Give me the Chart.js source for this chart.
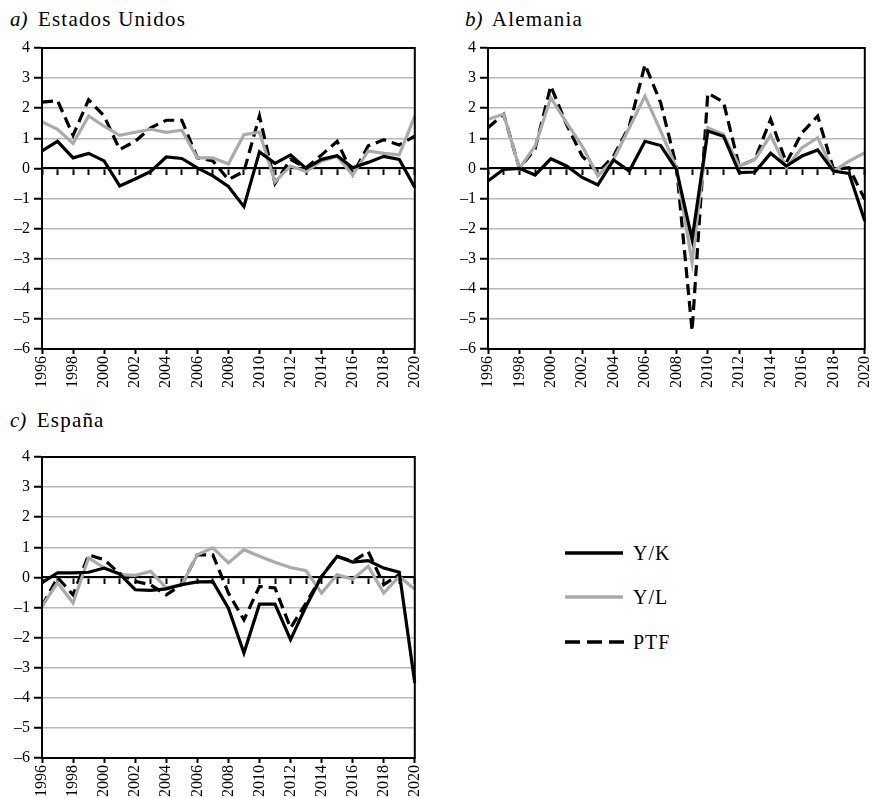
<!DOCTYPE html>
<html>
<head>
<meta charset="utf-8">
<script src="https://cdn.jsdelivr.net/npm/chart.js@4.4.1/dist/chart.umd.min.js"></script>
<style>
body { margin: 0; width: 873px; height: 798px; overflow: hidden; background: #fff; position: relative; font-family: "Liberation Serif", "DejaVu Serif", serif; color: #000; }
canvas { position: absolute; }
.title { position: absolute; font-size: 21px; line-height: 21px; letter-spacing: 1.2px; white-space: nowrap; }
.title i { margin-right: 4px; letter-spacing: 0; }
.key { position: absolute; left: 565px; width: 62px; height: 10px; }
.keytext { position: absolute; left: 633px; font-size: 20px; line-height: 20px; letter-spacing: 1px; }
</style>
</head>
<body>
<div class="title" style="left:10px; top:9px;"><i>a)</i> Estados Unidos</div>
<div class="title" style="left:465px; top:9px;"><i>b)</i> Alemania</div>
<div class="title" style="left:10px; top:410px;"><i>c)</i> España</div>

<canvas id="chartUS" width="436" height="390" style="left:0; top:0;"></canvas>
<canvas id="chartDE" width="440" height="390" style="left:446px; top:0;"></canvas>
<canvas id="chartES" width="436" height="388" style="left:0; top:410px;"></canvas>

<svg class="key" style="top:548px;"><line x1="0" y1="5" x2="58" y2="5" stroke="#000" stroke-width="3.5"/></svg>
<div class="keytext" style="top:543px;">Y/K</div>
<svg class="key" style="top:592px;"><line x1="0" y1="5" x2="58" y2="5" stroke="#aaaaaa" stroke-width="3.5"/></svg>
<div class="keytext" style="top:587px;">Y/L</div>
<svg class="key" style="top:637px;"><line x1="0" y1="5" x2="60" y2="5" stroke="#000" stroke-width="3.5" stroke-dasharray="15 7"/></svg>
<div class="keytext" style="top:632px;">PTF</div>

<script>
const years = ['1996', '1997', '1998', '1999', '2000', '2001', '2002', '2003', '2004', '2005', '2006', '2007', '2008',
    '2009', '2010', '2011', '2012', '2013', '2014', '2015', '2016', '2017', '2018', '2019', '2020'];

// a) Estados Unidos
const usYK = [0.58, 0.9, 0.35, 0.5, 0.25, -0.58, -0.35, -0.1, 0.38, 0.33, 0.02, -0.25, -0.6, -1.27, 0.55, 0.17, 0.45, 0.0, 0.3, 0.42, 0.02, 0.2, 0.4, 0.3, -0.63];
const usYL = [1.55, 1.3, 0.83, 1.74, 1.4, 1.1, 1.2, 1.3, 1.2, 1.27, 0.35, 0.35, 0.15, 1.12, 1.2, -0.45, 0.08, -0.1, 0.25, 0.4, -0.22, 0.58, 0.5, 0.45, 1.74];
const usPTF = [2.2, 2.25, 1.1, 2.28, 1.74, 0.63, 0.9, 1.35, 1.6, 1.6, 0.35, 0.25, -0.37, -0.1, 1.74, -0.5, 0.3, 0.02, 0.45, 0.9, -0.2, 0.75, 0.95, 0.78, 1.07];

// b) Alemania
const deYK = [-0.42, -0.03, 0, -0.22, 0.32, 0.08, -0.3, -0.55, 0.28, -0.09, 0.9, 0.76, -0.03, -2.36, 1.24, 1.07, -0.14, -0.12, 0.5, 0.08, 0.41, 0.61, -0.09, -0.17, -1.75];
const deYL = [1.63, 1.8, 0, 0.74, 2.35, 1.52, 0.74, -0.25, 0.3, 1.35, 2.4, 1.24, 0.02, -3.13, 1.35, 1.13, 0.08, 0.3, 1.1, 0.02, 0.69, 1.02, -0.09, 0.24, 0.52];
const dePTF = [1.35, 1.8, 0, 0.65, 2.74, 1.46, 0.41, -0.14, 0.41, 1.4, 3.45, 2.18, 0.08, -5.4, 2.5, 2.2, 0.08, 0.3, 1.63, 0.19, 1.18, 1.74, -0.03, 0.02, -1.03];

// c) España
const esYK = [-0.17, 0.15, 0.15, 0.17, 0.31, 0.12, -0.41, -0.43, -0.38, -0.24, -0.15, -0.14, -1.02, -2.51, -0.89, -0.89, -2.07, -0.96, 0.03, 0.7, 0.51, 0.56, 0.31, 0.17, -3.51];
const esYL = [-0.96, -0.18, -0.85, 0.65, 0.32, 0.09, 0.07, 0.2, -0.35, -0.24, 0.75, 0.98, 0.48, 0.92, 0.7, 0.5, 0.33, 0.22, -0.52, 0.09, -0.06, 0.37, -0.52, 0.03, -0.39];
const esPTF = [-0.96, 0.0, -0.58, 0.75, 0.59, 0.13, -0.13, -0.25, -0.58, -0.24, 0.75, 0.75, -0.52, -1.41, -0.3, -0.35, -1.68, -0.85, 0.03, 0.7, 0.53, 0.86, -0.24, 0.1, null];

const GRID_GRAY = '#b8b8b8';
const LINE_GRAY = '#aaaaaa';

Chart.defaults.font.family = '"Liberation Serif", "DejaVu Serif", serif';
Chart.defaults.font.size = 16;
Chart.defaults.color = '#000';

const framePlugin = {
    id: 'frame',
    afterDatasetsDraw(chart) {
        const { ctx, chartArea: a } = chart;
        ctx.save();
        ctx.strokeStyle = '#000';
        ctx.lineWidth = 2;
        ctx.strokeRect(a.left, a.top, a.right - a.left, a.bottom - a.top);
        ctx.restore();
    }
};

function makeChart(id, yk, yl, ptf, pad, xHeight) {
    return new Chart(document.getElementById(id), {
        type: 'line',
        data: {
            labels: years,
            datasets: [
                { label: 'Y/K', data: yk, borderColor: '#000', borderWidth: 3.2 },
                { label: 'Y/L', data: yl, borderColor: LINE_GRAY, borderWidth: 3.2 },
                { label: 'PTF', data: ptf, borderColor: '#000', borderWidth: 3.2, borderDash: [11, 6] },
            ]
        },
        options: {
            responsive: false,
            animation: false,
            layout: { padding: pad },
            elements: { point: { radius: 0 }, line: { tension: 0 } },
            plugins: { legend: { display: false }, tooltip: { enabled: false } },
            scales: {
                x: {
                    type: 'category',
                    offset: false,
                    grid: {
                        drawOnChartArea: false,
                        tickLength: 5,
                        tickWidth: 2,
                        tickColor: (ctx) => ctx.index % 2 ? 'rgba(0,0,0,0)' : '#000'
                    },
                    border: { color: '#000', width: 2 },
                    ticks: {
                        autoSkip: false,
                        maxRotation: 90,
                        minRotation: 90,
                        padding: 2,
                        callback: function (v, i) { return i % 2 ? '' : this.getLabelForValue(v); }
                    },
                    afterFit: (s) => { s.height = xHeight; }
                },
                x0: {
                    type: 'category',
                    position: { y: 0 },
                    offset: false,
                    grid: { drawOnChartArea: false, tickLength: 6, tickWidth: 2, tickColor: '#000' },
                    border: { color: '#000', width: 2 },
                    ticks: { display: false }
                },
                y: {
                    min: -6,
                    max: 4,
                    ticks: {
                        stepSize: 1,
                        padding: 4,
                        callback: (v) => v < 0 ? '\u2013' + Math.abs(v) : String(v)
                    },
                    grid: { color: GRID_GRAY, lineWidth: 1.5, tickColor: '#000', tickLength: 8, tickWidth: 2 },
                    border: { color: '#000', width: 2 },
                    afterFit: (s) => { s.width = 42; }
                }
            }
        },
        plugins: [framePlugin]
    });
}

makeChart('chartUS', usYK, usYL, usPTF, { top: 48, right: 13, left: 0, bottom: 0 }, 41);
makeChart('chartDE', deYK, deYL, dePTF, { top: 48, right: 17, left: 0, bottom: 0 }, 41);
makeChart('chartES', esYK, esYL, esPTF, { top: 47, right: 13, left: 0, bottom: 0 }, 40);
</script>
</body>
</html>
